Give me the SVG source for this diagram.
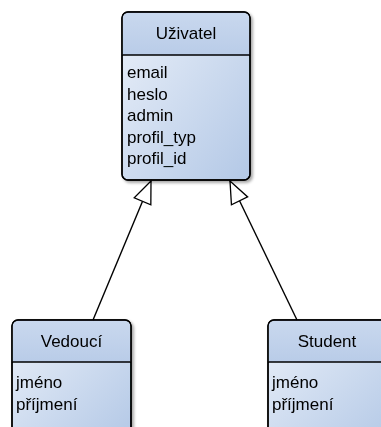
<svg xmlns="http://www.w3.org/2000/svg" width="381" height="427" viewBox="0 0 381 427">
  <defs>
    <linearGradient id="headFill" x1="0" y1="0" x2="0" y2="1">
      <stop offset="0" stop-color="#c9d8ee"/>
      <stop offset="1" stop-color="#b9cce8"/>
    </linearGradient>
    <linearGradient id="bodyFill" x1="0" y1="0" x2="1" y2="1">
      <stop offset="0" stop-color="#eaf0f9"/>
      <stop offset="1" stop-color="#b3c8e6"/>
    </linearGradient>
    <filter id="shadow" x="-20%" y="-20%" width="140%" height="140%">
      <feGaussianBlur in="SourceAlpha" stdDeviation="1.5"/>
      <feOffset dx="2" dy="2" result="b"/>
      <feComponentTransfer><feFuncA type="linear" slope="0.35"/></feComponentTransfer>
      <feMerge><feMergeNode/><feMergeNode in="SourceGraphic"/></feMerge>
    </filter>
    <!-- hollow generalization triangle, tip at the end of the line -->
    <marker id="inherit" viewBox="-2 -2 26 22" refX="22" refY="9" markerWidth="26" markerHeight="22" markerUnits="userSpaceOnUse" orient="auto">
      <path d="M22,9 L0,0 L0,18 Z" fill="#fff" stroke="#000" stroke-width="1.3" stroke-linejoin="miter"/>
    </marker>
  </defs>
  <style>
    .frame { fill: url(#bodyFill); stroke: #000; stroke-width: 1.4; }
    .head { fill: url(#headFill); }
    .sep { stroke: #000; stroke-width: 1.4; }
    .title { font-family: "Liberation Sans", Arial, sans-serif; font-size: 17px; fill: #000; text-anchor: middle; }
    .attr { font-family: "Liberation Sans", Arial, sans-serif; font-size: 17px; fill: #000; }
    .edge { fill: none; stroke: #000; stroke-width: 1.4; }
  </style>

  <g id="uzivatel" filter="url(#shadow)">
    <rect class="frame" x="122" y="12" width="128" height="168" rx="6"/>
    <path class="head" d="M128,12.7 H244 A5.3,5.3 0 0 1 249.3,18 V55 H122.7 V18 A5.3,5.3 0 0 1 128,12.7 Z"/>
    <line class="sep" x1="122" y1="55" x2="250" y2="55"/>
    <rect x="122" y="12" width="128" height="168" rx="6" fill="none" stroke="#000" stroke-width="1.4"/>
    <text class="title" x="186" y="39">Uživatel</text>
    <text class="attr" x="127" y="78">email</text>
    <text class="attr" x="127" y="99.5">heslo</text>
    <text class="attr" x="127" y="121">admin</text>
    <text class="attr" x="127" y="142.5">profil_typ</text>
    <text class="attr" x="127" y="164">profil_id</text>
  </g>

  <g id="vedouci" filter="url(#shadow)">
    <rect class="frame" x="12" y="320" width="119" height="120" rx="6"/>
    <path class="head" d="M18,320.7 H125 A5.3,5.3 0 0 1 130.3,326 V362 H12.7 V326 A5.3,5.3 0 0 1 18,320.7 Z"/>
    <line class="sep" x1="12" y1="362" x2="131" y2="362"/>
    <rect x="12" y="320" width="119" height="120" rx="6" fill="none" stroke="#000" stroke-width="1.4"/>
    <text class="title" x="71.5" y="347">Vedoucí</text>
    <text class="attr" x="16" y="388">jméno</text>
    <text class="attr" x="16" y="409.5">příjmení</text>
  </g>

  <g id="student" filter="url(#shadow)">
    <rect class="frame" x="268" y="320" width="130" height="120" rx="6"/>
    <path class="head" d="M274,320.7 H392 A5.3,5.3 0 0 1 397.3,326 V362 H268.7 V326 A5.3,5.3 0 0 1 274,320.7 Z"/>
    <line class="sep" x1="268" y1="362" x2="398" y2="362"/>
    <rect x="268" y="320" width="130" height="120" rx="6" fill="none" stroke="#000" stroke-width="1.4"/>
    <text class="title" x="327" y="347">Student</text>
    <text class="attr" x="272" y="388">jméno</text>
    <text class="attr" x="272" y="409.5">příjmení</text>
  </g>

  <g id="connectors">
    <line class="edge" x1="93" y1="320" x2="151" y2="181" marker-end="url(#inherit)"/>
    <line class="edge" x1="297" y1="320" x2="230" y2="181" marker-end="url(#inherit)"/>
  </g>
</svg>
